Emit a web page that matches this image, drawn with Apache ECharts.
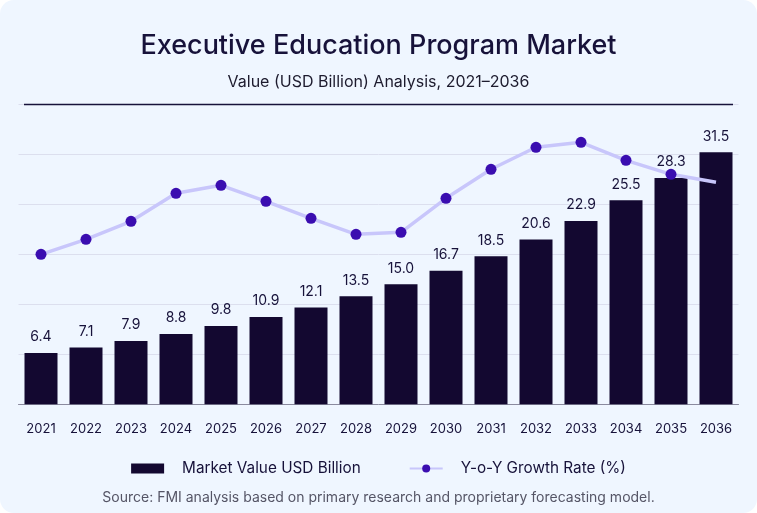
<!DOCTYPE html>
<html>
<head>
<meta charset="utf-8">
<script src="https://cdn.jsdelivr.net/npm/echarts@6/dist/echarts.min.js"></script>
<style>
  html, body { margin: 0; padding: 0; background: #ffffff; }
  #card { position: absolute; left: 0; top: 0; width: 757px; height: 513px; background: #eff6ff; border-radius: 14px; overflow: hidden; }
  #chart { width: 757px; height: 513px; }
</style>
</head>
<body>
<div id="card"><div id="chart"></div></div>
<script>
const years = ['2021','2022','2023','2024','2025','2026','2027','2028','2029','2030','2031','2032','2033','2034','2035','2036'];
const marketValue = [6.4, 7.1, 7.9, 8.8, 9.8, 10.9, 12.1, 13.5, 15.0, 16.7, 18.5, 20.6, 22.9, 25.5, 28.3, 31.5];
const growthRate = [7.5, 8.25, 9.15, 10.55, 10.95, 10.15, 9.3, 8.5, 8.6, 10.3, 11.75, 12.85, 13.1, 12.2, 11.5, 11.1];

const FONT = 'Inter, "Noto Sans", sans-serif';
const chart = echarts.init(document.getElementById('chart'), null, { renderer: 'canvas' });

const lineData = growthRate.map((v, i) => i === growthRate.length - 1 ? { value: v, symbol: 'none' } : v);

chart.setOption({
  backgroundColor: 'transparent',
  textStyle: { fontFamily: FONT },
  title: [
    {
      text: 'Executive Education Program Market',
      left: 'center', top: 27,
      textStyle: { fontFamily: FONT, fontSize: 27, fontWeight: 500, color: '#17123a' }
    },
    {
      text: 'Value (USD Billion) Analysis, 2021\u20132036',
      left: 'center', top: 69,
      textStyle: { fontFamily: FONT, fontSize: 16, fontWeight: 400, color: '#1d1b2e' }
    },
    {
      text: 'Source: FMI analysis based on primary research and proprietary forecasting model.',
      left: 'center', top: 486,
      textStyle: { fontFamily: FONT, fontSize: 14, fontWeight: 400, color: '#555566' }
    }
  ],
  graphic: [
    {
      type: 'line',
      shape: { x1: 24, y1: 104.5, x2: 733, y2: 104.5 },
      style: { stroke: '#17123a', lineWidth: 1.3 },
      z: 10
    }
  ],
  legend: {
    bottom: 32,
    left: 'center',
    itemGap: 48,
    itemWidth: 33,
    itemHeight: 10,
    textStyle: { fontFamily: FONT, fontSize: 15.3, color: '#17123a', padding: [0, 0, 0, 13] },
    data: [
      { name: 'Market Value USD Billion', icon: 'rect' },
      { name: 'Y-o-Y Growth Rate (%)' }
    ]
  },
  grid: { left: 18.5, right: 18.5, top: 104.3, bottom: 108.7 },
  xAxis: {
    type: 'category',
    data: years,
    axisTick: { show: false },
    axisLine: { lineStyle: { color: '#8a8a9e', width: 1 } },
    axisLabel: { color: '#17123a', fontSize: 13, margin: 18, fontFamily: FONT }
  },
  yAxis: [
    {
      type: 'value', min: 0, max: 37.5, interval: 6.25,
      axisLabel: { show: false },
      axisLine: { show: false }, axisTick: { show: false },
      splitLine: { lineStyle: { color: '#dcdfee', width: 1 } }
    },
    {
      type: 'value', min: 0, max: 15,
      axisLabel: { show: false },
      axisLine: { show: false }, axisTick: { show: false },
      splitLine: { show: false }
    }
  ],
  series: [
    {
      name: 'Market Value USD Billion',
      type: 'bar',
      data: marketValue,
      barWidth: 33,
      itemStyle: { color: '#130830' },
      label: {
        show: true, position: 'top', distance: 9,
        fontFamily: FONT, fontSize: 14, color: '#17123a',
        formatter: p => p.value.toFixed(1)
      }
    },
    {
      name: 'Y-o-Y Growth Rate (%)',
      type: 'line',
      yAxisIndex: 1,
      data: lineData,
      symbol: 'circle',
      symbolSize: 11,
      lineStyle: { color: '#c8c6fb', width: 3.5 },
      itemStyle: { color: '#3a0db0' },
      z: 5
    }
  ]
});
</script>
</body>
</html>
